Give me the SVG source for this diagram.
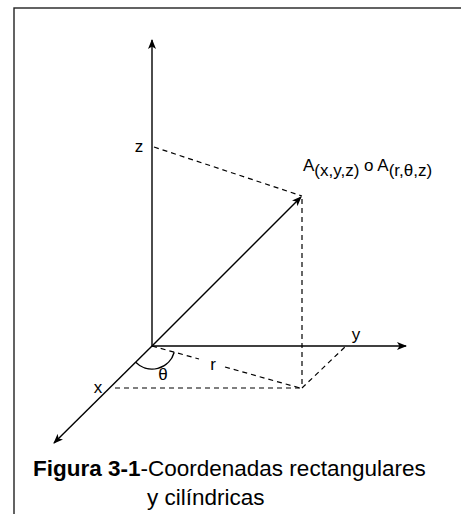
<svg xmlns="http://www.w3.org/2000/svg" width="461" height="514" viewBox="0 0 461 514">
  <style>
    .ax { stroke: #000; stroke-width: 1.4; fill: none; }
    .dash { stroke: #000; stroke-width: 1.2; fill: none; stroke-dasharray: 5 4; }
    .lbl { font-family: "Liberation Sans", Arial, sans-serif; font-size: 17px; fill: #000; }
    .cap { font-family: "Liberation Sans", Arial, sans-serif; font-size: 22.5px; fill: #000; }
  </style>
  <defs>
    <marker id="arr" viewBox="0 0 10 8" refX="9" refY="4" markerWidth="10" markerHeight="8" markerUnits="userSpaceOnUse" orient="auto">
      <path d="M0,0 L10,4 L0,8 L2.5,4 z" fill="#000"/>
    </marker>
  </defs>
  <rect x="0" y="0" width="461" height="514" fill="#fff"/>
  <rect id="frame" x="14" y="8" width="470" height="530" fill="none" stroke="#222" stroke-width="1.4"/>

  <g id="connectors">
    <line class="ax" x1="152" y1="346" x2="152" y2="40" marker-end="url(#arr)"/>
    <line class="ax" x1="152" y1="346" x2="406" y2="346" marker-end="url(#arr)"/>
    <line class="ax" x1="152" y1="346" x2="54" y2="443" marker-end="url(#arr)"/>
    <line class="ax" x1="152" y1="346" x2="301" y2="197" marker-end="url(#arr)"/>
    <line class="dash" x1="154" y1="147" x2="302" y2="196"/>
    <line class="dash" x1="302" y1="199" x2="302" y2="388"/>
    <line class="dash" x1="115" y1="388" x2="302" y2="388"/>
    <line class="dash" x1="302" y1="388" x2="346" y2="346"/>
    <line class="dash" x1="152" y1="346" x2="199" y2="359"/>
    <line class="dash" x1="225" y1="367" x2="300" y2="388"/>
    <path class="ax" d="M135.7,362.3 A23,23 0 0 0 174.2,352.2"/>
  </g>

  <g id="label-z"><text class="lbl" x="139" y="152" text-anchor="middle">z</text></g>
  <g id="label-y"><text class="lbl" x="356" y="340" text-anchor="middle">y</text></g>
  <g id="label-x"><text class="lbl" x="98" y="393" text-anchor="middle">x</text></g>
  <g id="label-r"><text class="lbl" x="213" y="370" text-anchor="middle">r</text></g>
  <g id="label-theta"><text class="lbl" x="163" y="380" text-anchor="middle">θ</text></g>
  <g id="label-A">
    <text class="lbl" x="303" y="171">A<tspan dy="5">(x,y,z)</tspan><tspan dy="-5"> o </tspan>A<tspan dy="5">(r,θ,z)</tspan></text>
  </g>
  <g id="caption">
    <text class="cap" x="33" y="476"><tspan font-weight="bold">Figura 3-1</tspan>-Coordenadas rectangulares</text>
    <text class="cap" x="147" y="505">y cilíndricas</text>
  </g>
</svg>
